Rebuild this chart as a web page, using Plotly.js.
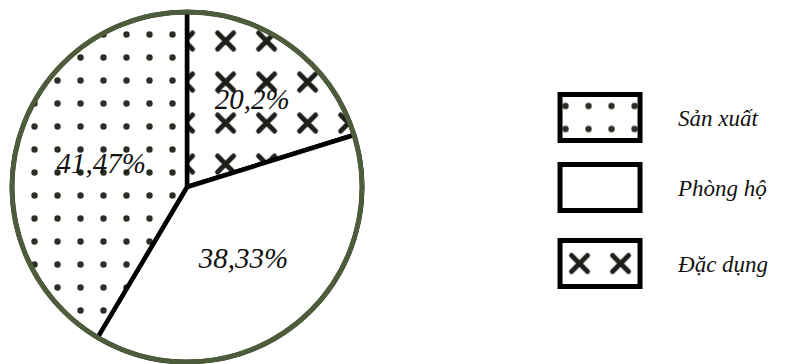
<!DOCTYPE html>
<html><head><meta charset="utf-8">
<script src="https://cdn.plot.ly/plotly-3.0.1.min.js"></script>
<style>body{margin:0;background:#fff}</style>
</head><body><div id="chart" style="width:797px;height:364px"></div>
<script>
const categories = ['Sản xuất', 'Phòng hộ', 'Đặc dụng'];
const shares = [41.47, 38.33, 20.2];
const shareLabels = ['41,47%', '38,33%', '20,2%'];
const patternShapes = ['.', '', 'x'];

const W = 797, H = 364, cx = 187, cy = 187, r = 175;
const dom = {x: [(cx - r) / W, (cx + r) / W], y: [(H - cy - r) / H, (H - cy + r) / H]};
const serif = '"Liberation Serif", "Times New Roman", Times, serif';
const rev = a => a.slice().reverse();

const trace = {
  type: 'pie', labels: rev(categories), values: rev(shares), text: rev(shareLabels),
  textinfo: 'text', textposition: 'inside', insidetextorientation: 'horizontal',
  sort: false, direction: 'clockwise', rotation: 0,
  marker: {
    colors: ['#ffffff', '#ffffff', '#ffffff'],
    line: {color: '#000000', width: 4.5},
    pattern: {shape: rev(patternShapes), size: rev([23, 22, 29]), solidity: rev([0.06, 0.05, 0.12]),
              fgcolor: '#2a2f26', bgcolor: '#ffffff', fillmode: 'replace'}
  },
  textfont: {family: serif, size: 29, color: '#111111', style: 'italic'},
  domain: dom, hoverinfo: 'none'
};

const layout = {
  width: W, height: H, margin: {l: 0, r: 0, t: 0, b: 0},
  paper_bgcolor: '#ffffff', showlegend: true,
  legend: {x: 0.655, y: 0.5, xanchor: 'left', yanchor: 'middle', itemwidth: 146, traceorder: 'reversed',
           font: {family: serif, size: 23, color: '#111111', style: 'italic'}},
  shapes: [{type: 'circle', xref: 'paper', yref: 'paper', x0: dom.x[0], x1: dom.x[1], y0: dom.y[0], y1: dom.y[1],
            line: {color: '#4d5c3a', width: 5}}]
};

Plotly.newPlot('chart', [trace], layout, {staticPlot: true}).then(gd => {
  const ys = [-10, 60, 136];
  gd.querySelectorAll('.legend .scrollbox').forEach(s => s.removeAttribute('clip-path'));
  gd.querySelectorAll('.legend .traces').forEach((g, i) => {
    g.setAttribute('transform', 'translate(0,' + ys[i] + ')');
  });
  gd.querySelectorAll('.legend path.legendpie').forEach(p => {
    p.setAttribute('d', 'M40,23H-40V-23H40Z');
    p.style.strokeWidth = '5px';
  });
  gd.querySelectorAll('pattern').forEach(pt => {
    const path = pt.querySelector('path');
    if (path) {
      const w = parseFloat(pt.getAttribute('width')) || 35;
      const h = parseFloat(pt.getAttribute('height')) || w;
      const c = w / 2, d = h / 2, k = 8;
      path.setAttribute('d', 'M' + (c - k) + ',' + (d - k) + 'L' + (c + k) + ',' + (d + k) +
                             'M' + (c + k) + ',' + (d - k) + 'L' + (c - k) + ',' + (d + k));
      path.style.strokeWidth = '5px';
      path.style.strokeLinecap = 'round';
      path.style.stroke = '#1c1f1a';
      pt.setAttribute('patternTransform', 'translate(0,' + (h / 2) + ')');
    }
  });
});
</script></body></html>
